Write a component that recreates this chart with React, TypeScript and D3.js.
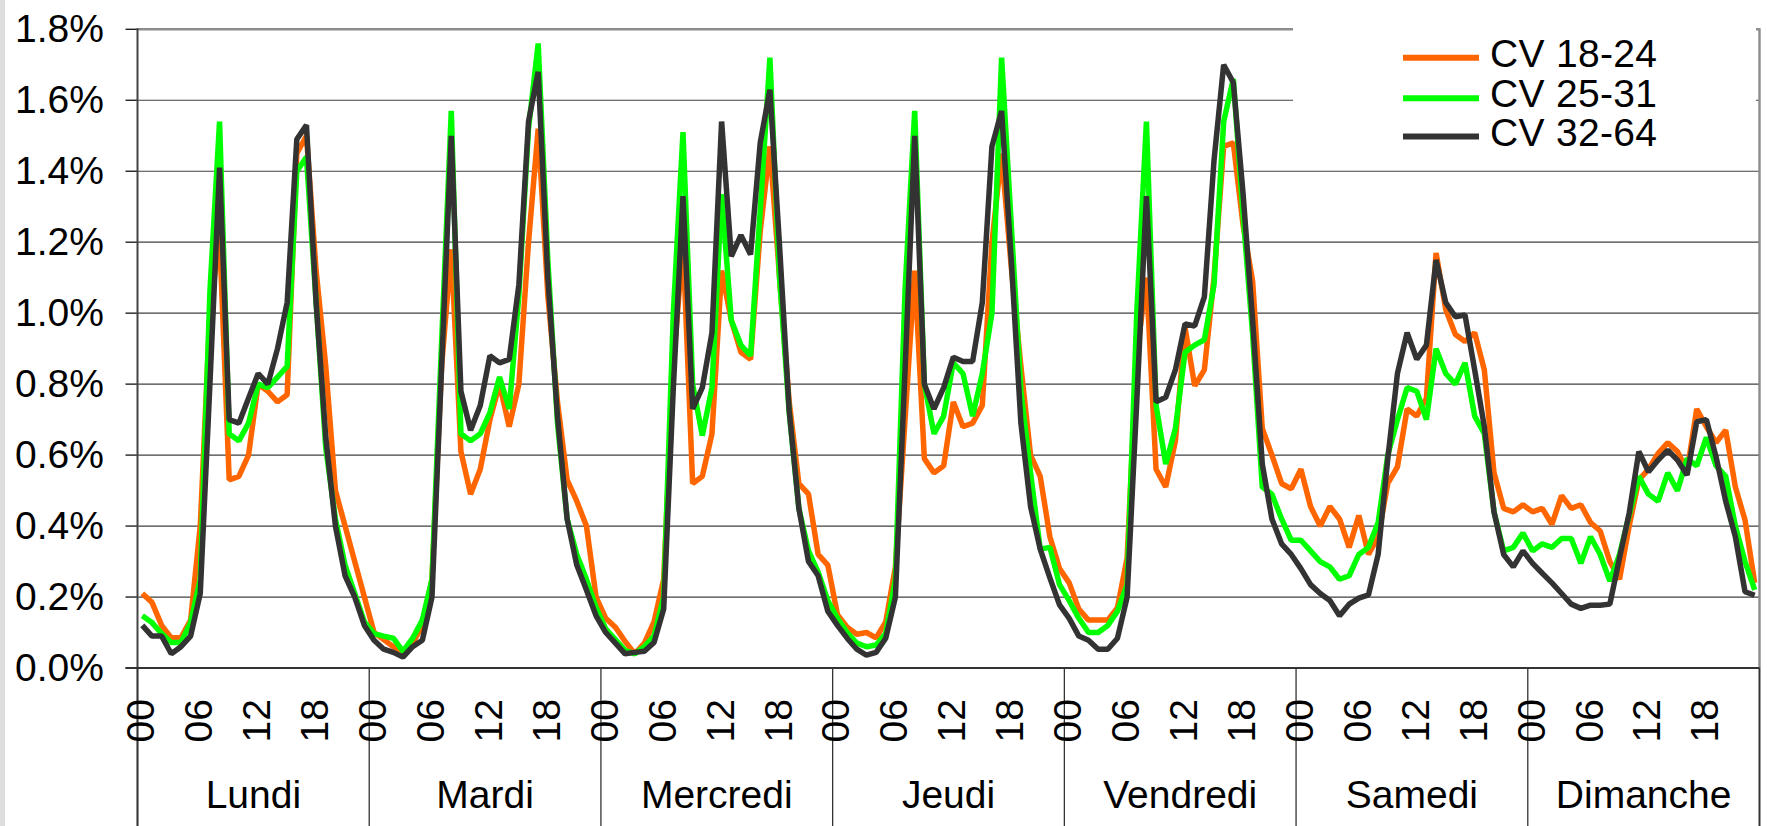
import React from 'react';
import * as d3 from 'd3';

// ---- data ----
const days = ['Lundi', 'Mardi', 'Mercredi', 'Jeudi', 'Vendredi', 'Samedi', 'Dimanche'];
const hourLabels = ['00', '06', '12', '18'];
const hourLabelOffsets = [0, 6, 12, 18];
const yTicks = [0, 0.2, 0.4, 0.6, 0.8, 1.0, 1.2, 1.4, 1.6, 1.8];
const seriesNames = ['CV 18-24', 'CV 25-31', 'CV 32-64'];
const seriesColors = ['#FF6600', '#00FF00', '#333333'];

// hourly share of weekly trips (%), Monday 00h -> Sunday 23h
const cv1824 = [
  0.21, 0.185, 0.12, 0.085, 0.085, 0.135, 0.40, 1.00, 1.22, 0.53, 0.54, 0.60, 0.80, 0.78, 0.75, 0.77, 1.45, 1.50, 1.12, 0.85, 0.50, 0.40, 0.30, 0.20,
  0.10, 0.08, 0.06, 0.047, 0.07, 0.12, 0.25, 0.85, 1.18, 0.61, 0.49, 0.56, 0.70, 0.80, 0.68, 0.80, 1.20, 1.52, 1.05, 0.75, 0.53, 0.47, 0.40, 0.20,
  0.14, 0.115, 0.075, 0.04, 0.07, 0.13, 0.25, 0.85, 1.20, 0.52, 0.54, 0.66, 1.12, 0.98, 0.89, 0.87, 1.23, 1.47, 1.10, 0.75, 0.52, 0.49, 0.32, 0.29,
  0.15, 0.115, 0.095, 0.10, 0.085, 0.13, 0.285, 0.70, 1.12, 0.59, 0.55, 0.57, 0.75, 0.68, 0.69, 0.74, 1.20, 1.45, 1.13, 0.85, 0.60, 0.54, 0.37, 0.28,
  0.24, 0.166, 0.135, 0.135, 0.135, 0.17, 0.31, 0.88, 1.10, 0.56, 0.51, 0.64, 0.96, 0.795, 0.84, 1.10, 1.47, 1.48, 1.25, 1.09, 0.675, 0.60, 0.52, 0.505,
  0.56, 0.455, 0.40, 0.455, 0.42, 0.34, 0.43, 0.32, 0.37, 0.52, 0.567, 0.73, 0.71, 0.76, 1.17, 1.01, 0.94, 0.92, 0.945, 0.84, 0.55, 0.45, 0.44, 0.46,
  0.44, 0.45, 0.405, 0.486, 0.45, 0.46, 0.41, 0.386, 0.30, 0.25, 0.40, 0.53, 0.56, 0.605, 0.635, 0.61, 0.555, 0.73, 0.68, 0.635, 0.67, 0.51, 0.417, 0.24,
];
const cv2531 = [
  0.147, 0.128, 0.097, 0.072, 0.072, 0.128, 0.25, 1.06, 1.54, 0.66, 0.64, 0.69, 0.80, 0.79, 0.82, 0.85, 1.40, 1.44, 1.03, 0.62, 0.42, 0.29, 0.21, 0.13,
  0.097, 0.09, 0.084, 0.047, 0.084, 0.135, 0.25, 0.92, 1.57, 0.66, 0.64, 0.66, 0.72, 0.82, 0.73, 1.05, 1.52, 1.76, 1.15, 0.69, 0.42, 0.32, 0.25, 0.17,
  0.11, 0.08, 0.05, 0.04, 0.06, 0.09, 0.20, 1.00, 1.51, 0.80, 0.655, 0.79, 1.335, 0.98, 0.91, 0.88, 1.29, 1.72, 1.10, 0.72, 0.45, 0.33, 0.27, 0.19,
  0.14, 0.10, 0.07, 0.06, 0.065, 0.097, 0.25, 1.065, 1.57, 0.80, 0.66, 0.71, 0.86, 0.83, 0.71, 0.83, 1.00, 1.72, 1.25, 0.78, 0.55, 0.335, 0.34, 0.235,
  0.19, 0.14, 0.10, 0.10, 0.12, 0.16, 0.235, 1.00, 1.54, 0.74, 0.575, 0.675, 0.89, 0.91, 0.925, 1.08, 1.54, 1.66, 1.28, 0.94, 0.51, 0.49, 0.42, 0.36,
  0.36, 0.33, 0.30, 0.285, 0.25, 0.26, 0.32, 0.34, 0.41, 0.60, 0.70, 0.79, 0.78, 0.70, 0.90, 0.83, 0.80, 0.86, 0.71, 0.66, 0.44, 0.33, 0.34, 0.38,
  0.33, 0.35, 0.34, 0.365, 0.365, 0.295, 0.37, 0.32, 0.245, 0.32, 0.43, 0.54, 0.49, 0.47, 0.55, 0.50, 0.59, 0.57, 0.65, 0.57, 0.54, 0.40, 0.30, 0.22,
];
const cv3264 = [
  0.12, 0.09, 0.09, 0.04, 0.06, 0.09, 0.21, 0.80, 1.41, 0.70, 0.69, 0.76, 0.83, 0.80, 0.90, 1.03, 1.49, 1.53, 1.03, 0.65, 0.40, 0.26, 0.20, 0.12,
  0.078, 0.053, 0.044, 0.031, 0.06, 0.078, 0.20, 0.85, 1.50, 0.78, 0.67, 0.74, 0.88, 0.86, 0.87, 1.08, 1.54, 1.68, 1.10, 0.71, 0.42, 0.29, 0.22, 0.147,
  0.10, 0.07, 0.04, 0.044, 0.047, 0.072, 0.166, 0.79, 1.33, 0.73, 0.79, 0.945, 1.54, 1.16, 1.22, 1.165, 1.48, 1.63, 1.19, 0.725, 0.45, 0.30, 0.26, 0.16,
  0.12, 0.084, 0.053, 0.036, 0.044, 0.084, 0.20, 0.84, 1.50, 0.80, 0.73, 0.79, 0.876, 0.864, 0.864, 1.03, 1.47, 1.57, 1.15, 0.69, 0.455, 0.335, 0.254, 0.178,
  0.14, 0.09, 0.078, 0.053, 0.053, 0.084, 0.20, 0.75, 1.33, 0.75, 0.763, 0.84, 0.97, 0.964, 1.046, 1.43, 1.70, 1.65, 1.34, 0.98, 0.575, 0.42, 0.35, 0.32,
  0.28, 0.235, 0.21, 0.19, 0.147, 0.18, 0.197, 0.206, 0.32, 0.59, 0.83, 0.945, 0.87, 0.91, 1.15, 1.03, 0.99, 0.995, 0.84, 0.68, 0.44, 0.32, 0.285, 0.33,
  0.295, 0.267, 0.24, 0.21, 0.18, 0.168, 0.177, 0.177, 0.18, 0.31, 0.436, 0.61, 0.553, 0.586, 0.614, 0.586, 0.544, 0.694, 0.70, 0.595, 0.47, 0.37, 0.215, 0.205,
];
const seriesData = [cv1824, cv2531, cv3264];

// ---- layout ----
const W = 1767;
const H = 826;
const M = { left: 137.5, right: 1759.5, top: 29.3, bottom: 668 };
const FONT = '"Liberation Sans", Arial, Helvetica, sans-serif';

export default function App() {
  const n = days.length * 24;
  const x = d3.scaleBand<number>().domain(d3.range(n)).range([M.left, M.right]).padding(0);
  const cx = (i: number) => (x(i) as number) + x.bandwidth() / 2;
  const y = d3.scaleLinear().domain([0, 1.8]).range([M.bottom, M.top]);
  const line = d3.line<number>().x((_, i) => cx(i)).y((d) => y(d));
  const dayEdge = (d: number) => (d < days.length ? (x(d * 24) as number) : M.right);
  const fmt = d3.format('.1f');

  return (
    <svg
      width={W}
      height={H}
      viewBox={`0 0 ${W} ${H}`}
      style={{ position: 'absolute', left: 0, top: 0, display: 'block', background: '#fff' }}
      fontFamily={FONT}
    >
      <rect x={0} y={0} width={W} height={H} fill="#ffffff" />
      <rect x={0} y={0} width={5} height={H} fill="#dedede" />

      {/* gridlines */}
      {yTicks.slice(1, -1).map((t) => (
        <line key={'g' + t} x1={M.left} x2={M.right} y1={y(t)} y2={y(t)} stroke="#404040" strokeWidth={1.2} />
      ))}
      {/* plot border top/right */}
      <line x1={M.left} x2={M.right} y1={y(1.8)} y2={y(1.8)} stroke="#8c8c8c" strokeWidth={2.6} />
      <line x1={M.right} x2={M.right} y1={y(1.8) - 1} y2={H} stroke="#8c8c8c" strokeWidth={2.4} />

      {/* y ticks & labels */}
      {yTicks.map((t) => (
        <g key={'y' + t}>
          <line x1={125.5} x2={M.left} y1={y(t)} y2={y(t)} stroke="#222" strokeWidth={1.4} />
          <text x={104} y={y(t) + 13} textAnchor="end" fontSize={39} fill="#000">
            {fmt(t) + '%'}
          </text>
        </g>
      ))}

      {/* series */}
      {seriesData.map((s, k) => (
        <path
          key={seriesNames[k]}
          d={line(s) || ''}
          fill="none"
          stroke={seriesColors[k]}
          strokeWidth={5.5}
          strokeLinejoin="bevel"
        />
      ))}

      {/* axes */}
      <line x1={M.left} x2={M.left} y1={y(1.8) - 1} y2={H} stroke="#444" strokeWidth={2} />
      <line x1={125.5} x2={M.right} y1={M.bottom} y2={M.bottom} stroke="#333" strokeWidth={2} />

      {/* day separators */}
      {d3.range(days.length + 1).map((d) => (
        <line key={'sep' + d} x1={dayEdge(d)} x2={dayEdge(d)} y1={M.bottom} y2={H} stroke="#333" strokeWidth={1.3} />
      ))}

      {/* hour labels */}
      {days.map((day, d) =>
        hourLabels.map((h, j) => {
          const px = cx(d * 24 + hourLabelOffsets[j]) - 1.5;
          return (
            <text
              key={day + h}
              transform={`translate(${px},699) rotate(-90)`}
              textAnchor="end"
              dominantBaseline="central"
              fontSize={39}
              fill="#000"
            >
              {h}
            </text>
          );
        })
      )}

      {/* day labels */}
      {days.map((day, d) => (
        <text key={day} x={(dayEdge(d) + dayEdge(d + 1)) / 2} y={808} textAnchor="middle" fontSize={39} fill="#000">
          {day}
        </text>
      ))}

      {/* legend */}
      <rect x={1293} y={20} width={463} height={145} fill="#ffffff" />
      {seriesNames.map((name, k) => {
        const ly = [57.7, 98.3, 136.5][k];
        return (
          <g key={'leg' + name}>
            <line x1={1403} x2={1479} y1={ly} y2={ly} stroke={seriesColors[k]} strokeWidth={6} />
            <text x={1490} y={ly + 9} fontSize={39} fill="#000" textLength={167} lengthAdjust="spacing">
              {name}
            </text>
          </g>
        );
      })}
    </svg>
  );
}
